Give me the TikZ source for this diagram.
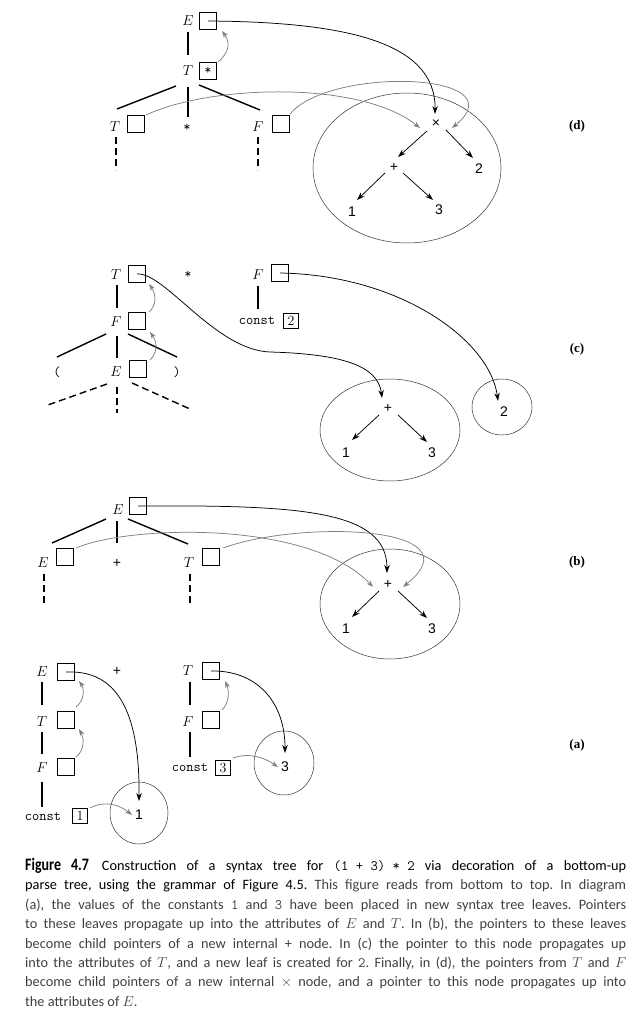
\documentclass[tikz,border=0pt]{standalone}
\usepackage{fontspec}
\usetikzlibrary{calc,arrows.meta,shapes.geometric}
\newfontfamily\sfn{Liberation Sans}
\newfontfamily\capfont{Carlito}
\newfontfamily\figfont[FakeStretch=0.8]{Carlito}
\newfontfamily\plabfont{Liberation Serif}
\begin{document}
\begin{tikzpicture}[x=1pt,y=-1pt,
  lab/.style={inner sep=0pt, font=\fontsize{14}{14}\selectfont},
  bx/.style={draw, line width=1.3pt, minimum size=17pt, inner sep=0pt, font=\fontsize{14}{14}\selectfont},
  sbx/.style={draw, line width=1.1pt, minimum size=15pt, inner sep=0pt, font=\fontsize{14}{14}\selectfont},
  tn/.style={inner sep=0pt, font=\sfn\fontsize{14}{14}\selectfont},
  edge/.style={line width=1.4pt},
  dsh/.style={line width=1.4pt, dash pattern=on 7pt off 4pt},
  ptr/.style={line width=0.75pt, -{Stealth[length=8pt,width=5.5pt]}},
  tarr/.style={line width=0.75pt, -{Stealth[length=8pt,width=5.5pt]}},
  up/.style={draw=black!50, line width=0.75pt, -{Stealth[length=7pt,width=5pt]}},
  ell/.style={draw=black!80, line width=0.5pt, ellipse, inner sep=0pt},
  plab/.style={font=\plabfont\bfseries\fontsize{13}{13}\selectfont, inner sep=0pt}]
\useasboundingbox (0,0) rectangle (638,1024);

%================ (d)
\node[lab] (dE) at (188,21) {$E$};
\node[bx] (dEb) at (208,21) {};
\node[lab] (dT) at (188,71) {$T$};
\node[bx] (dTb) at (208,71) {\texttt{*}};
\node[lab] (dTl) at (115,127) {$T$};
\node[bx] (dTlb) at (136,124) {};
\node[lab] (dS) at (187,128) {\texttt{*}};
\node[lab] (dF) at (258,127) {$F$};
\node[bx] (dFb) at (281,124) {};
\draw[edge] ($(dE)+(0,11)$) -- ($(dT)+(0,-16)$);
\draw[edge] ($(dT)+(-12,15)$) -- ($(dTl)+(2,-18)$);
\draw[edge] ($(dT)+(0,16)$) -- ($(dS)+(1,-11)$);
\draw[edge] ($(dT)+(11,14)$) -- ($(dF)+(2,-17)$);
\draw[dsh] ($(dTl)+(1,10)$) -- ++(0,33);
\draw[dsh] ($(dF)+(0,10)$) -- ++(0,33);
\node[ell, minimum width=188pt, minimum height=150pt] (dEll) at (407,168) {};
\node[tn] (dX) at (436,124) {×};
\node[tn] (dPlus) at (394,167) {+};
\node[tn] (d2) at (479,169) {2};
\node[tn] (d1) at (352,212) {1};
\node[tn] (d3) at (439,210) {3};
\draw[tarr] ($(dX)+(-9,7)$) -- ($(dPlus)+(4,-10)$);
\draw[tarr] ($(dX)+(10,6)$) -- ($(d2)+(-6,-11)$);
\draw[tarr] ($(dPlus)+(-9,6)$) -- ($(d1)+(5,-12)$);
\draw[tarr] ($(dPlus)+(9,6)$) -- ($(d3)+(-6,-10)$);
\draw[ptr] (dEb.center) .. controls (340,22) and (436,40) .. ($(dX)+(-1,-10)$);
\draw[up] ($(dTlb)+(10,-9)$) .. controls (210,85) and (360,80) .. ($(dX)+(-16,4)$);
\draw[up] ($(dFb)+(9,-10)$) .. controls (330,66) and (520,72) .. ($(dX)+(16,4)$);
\draw[up] ($(dTb)+(10,-9)$) .. controls (230,52) and (230,42) .. ($(dEb)+(14,10)$);
\node[plab] (pd) at (577,126) {(d)};

%================ (c)
\node[lab] (cT) at (116,275) {$T$};
\node[bx] (cTb) at (137,274) {};
\node[lab] (cS) at (188,275) {\texttt{*}};
\node[lab] (cF) at (258,275) {$F$};
\node[bx] (cFb) at (280,273) {};
\node[lab] (cconst) at (257,321) {\texttt{const}};
\node[sbx] (cc2b) at (291,321) {2};
\node[lab] (cF2) at (116,322) {$F$};
\node[bx] (cF2b) at (137,321) {};
\node[lab] (cLp) at (57,372) {\texttt{(}};
\node[lab] (cE) at (116,372) {$E$};
\node[bx] (cEb) at (138,369) {};
\node[lab] (cRp) at (177,372) {\texttt{)}};
\draw[edge] ($(cT)+(1,10)$) -- ($(cF2)+(1,-14)$);
\draw[edge] ($(cF)+(0,11)$) -- ($(cconst)+(1,-12)$);
\draw[edge] ($(cF2)+(-10,12)$) -- ($(cLp)+(0,-15)$);
\draw[edge] ($(cF2)+(1,14)$) -- ($(cE)+(1,-14)$);
\draw[edge] ($(cF2)+(12,12)$) -- ($(cRp)+(0,-15)$);
\draw[dsh] ($(cE)+(-9,12)$) -- ++(-62,22);
\draw[dsh] ($(cE)+(1,15)$) -- ++(0,26);
\draw[dsh] ($(cE)+(16,11)$) -- ++(58,26);
\node[ell, minimum width=140pt, minimum height=102pt] (cEll) at (390,430) {};
\node[tn] (cPlus) at (388,408) {+};
\node[tn] (c1) at (346,453) {1};
\node[tn] (c3) at (432,453) {3};
\node[ell, minimum width=60pt, minimum height=56pt] (c2C) at (502,407) {};
\node[tn] (c2) at (504,412) {2};
\draw[tarr] ($(cPlus)+(-9,7)$) -- ($(c1)+(6,-13)$);
\draw[tarr] ($(cPlus)+(10,7)$) -- ($(c3)+(-5,-11)$);
\draw[ptr] (cTb.center) .. controls (165,272) and (215,350) .. (270,352) .. controls (340,354) and (378,365) .. ($(cPlus)+(-6,-10)$);
\draw[ptr] (cFb.center) .. controls (400,275) and (490,340) .. ($(c2)+(-6,-11)$);
\draw[up] ($(cF2b)+(12,-9)$) .. controls (157,305) and (156,294) .. ($(cTb)+(12,10)$);
\draw[up] ($(cEb)+(12,-9)$) .. controls (158,352) and (157,342) .. ($(cF2b)+(13,11)$);
\node[plab] (pc) at (577,349) {(c)};

%================ (b)
\node[lab] (bE) at (118,510) {$E$};
\node[bx] (bEb) at (138,506) {};
\node[lab] (bEl) at (43,563) {$E$};
\node[bx] (bElb) at (65,557) {};
\node[tn] (bPl) at (117,563) {+};
\node[lab] (bT) at (189,563) {$T$};
\node[bx] (bTb) at (211,557) {};
\draw[edge] ($(bE)+(-12,9)$) -- ($(bEl)+(9,-20)$);
\draw[edge] ($(bE)+(-1,11)$) -- ($(bPl)+(0,-20)$);
\draw[edge] ($(bE)+(10,9)$) -- ($(bT)+(-1,-19)$);
\draw[dsh] ($(bEl)+(1,11)$) -- ++(0,30);
\draw[dsh] ($(bT)+(1,11)$) -- ++(0,30);
\node[ell, minimum width=140pt, minimum height=110pt] (bEll) at (390,604) {};
\node[tn] (bPlus) at (388,584) {+};
\node[tn] (b1) at (346,629) {1};
\node[tn] (b3) at (432,629) {3};
\draw[tarr] ($(bPlus)+(-9,7)$) -- ($(b1)+(6,-12)$);
\draw[tarr] ($(bPlus)+(10,7)$) -- ($(b3)+(-5,-11)$);
\draw[ptr] (bEb.center) .. controls (300,505) and (387,510) .. ($(bPlus)+(-1,-11)$);
\draw[up] ($(bElb)+(11,-9)$) .. controls (130,525) and (310,520) .. ($(bPlus)+(-15,3)$);
\draw[up] ($(bTb)+(12,-9)$) .. controls (300,520) and (480,525) .. ($(bPlus)+(15,3)$);
\node[plab] (pb) at (577,562) {(b)};

%================ (a)
\node[lab] (aE) at (42,672) {$E$};
\node[bx] (aEb) at (66,672) {};
\node[tn] (aPl) at (117,671) {+};
\node[lab] (aT) at (42,722) {$T$};
\node[bx] (aTb) at (66,720) {};
\node[lab] (aF) at (42,768) {$F$};
\node[bx] (aFb) at (66,767) {};
\node[lab] (aconst) at (43,817) {\texttt{const}};
\node[sbx] (a1b) at (80,816) {1};
\draw[edge] ($(aE)+(0,10)$) -- ($(aT)+(0,-17)$);
\draw[edge] ($(aT)+(0,10)$) -- ($(aF)+(0,-14)$);
\draw[edge] ($(aF)+(0,14)$) -- ($(aconst)+(-1,-10)$);
\node[ell, minimum width=58pt, minimum height=62pt] (aC1) at (139,813) {};
\node[tn] (a1) at (139,815) {1};
\node[lab] (aT2) at (188,671) {$T$};
\node[bx] (aT2b) at (211,671) {};
\node[lab] (aF2) at (188,722) {$F$};
\node[bx] (aF2b) at (211,720) {};
\node[lab] (aconst2) at (190,768) {\texttt{const}};
\node[sbx] (a3b) at (223,768) {3};
\draw[edge] ($(aT2)+(2,11)$) -- ($(aF2)+(2,-17)$);
\draw[edge] ($(aF2)+(2,10)$) -- ($(aconst2)+(0,-11)$);
\node[ell, minimum width=60pt, minimum height=64pt] (aC3) at (284,763) {};
\node[tn] (a3) at (285,767) {3};
\draw[ptr] (aEb.center) .. controls (110,670) and (140,700) .. ($(a1)+(0,-14)$);
\draw[ptr] (aT2b.center) .. controls (255,670) and (285,700) .. ($(a3)+(0,-14)$);
\draw[up] ($(a1b)+(10,-8)$) .. controls (105,800) and (120,805) .. ($(a1)+(-7,0)$);
\draw[up] ($(a3b)+(10,-10)$) .. controls (250,752) and (265,758) .. ($(a3)+(-7,0)$);
\draw[up] ($(aFb)+(10,-10)$) .. controls (85,750) and (84,738) .. ($(aTb)+(13,9)$);
\draw[up] ($(aTb)+(10,-13)$) .. controls (85,700) and (84,688) .. ($(aEb)+(13,9)$);
\draw[up] ($(aF2b)+(11,-10)$) .. controls (230,702) and (229,690) .. ($(aT2b)+(14,10)$);
\node[plab] (pa) at (577,745) {(a)};

%================ caption
\node[anchor=north west, inner sep=0pt, text width=601pt, align=justify,
  font=\capfont\fontsize{14.3}{19.4}\selectfont] (cap) at (25,858) {\frenchspacing\hyphenpenalty=10000\tolerance=10000%
{\figfont\bfseries\fontsize{17.5}{19.4}\selectfont Figure 4.7}\hspace{0.9em}Construction of a syntax tree for \texttt{(1 + 3) * 2} via decoration of a bottom-up\linebreak
parse tree, using the grammar of Figure 4.5. {\color{black!75}This figure reads from bottom to top. In diagram\linebreak
(a), the values of the constants \texttt{1} and \texttt{3} have been placed in new syntax tree leaves. Pointers\linebreak
to these leaves propagate up into the attributes of $E$ and $T$. In (b), the pointers to these leaves\linebreak
become child pointers of a new internal + node. In (c) the pointer to this node propagates up\linebreak
into the attributes of $T$, and a new leaf is created for \texttt{2}. Finally, in (d), the pointers from $T$ and $F$\linebreak
become child pointers of a new internal $\times$ node, and a pointer to this node propagates up into\linebreak
the attributes of $E$.}};
\end{tikzpicture}
\end{document}
